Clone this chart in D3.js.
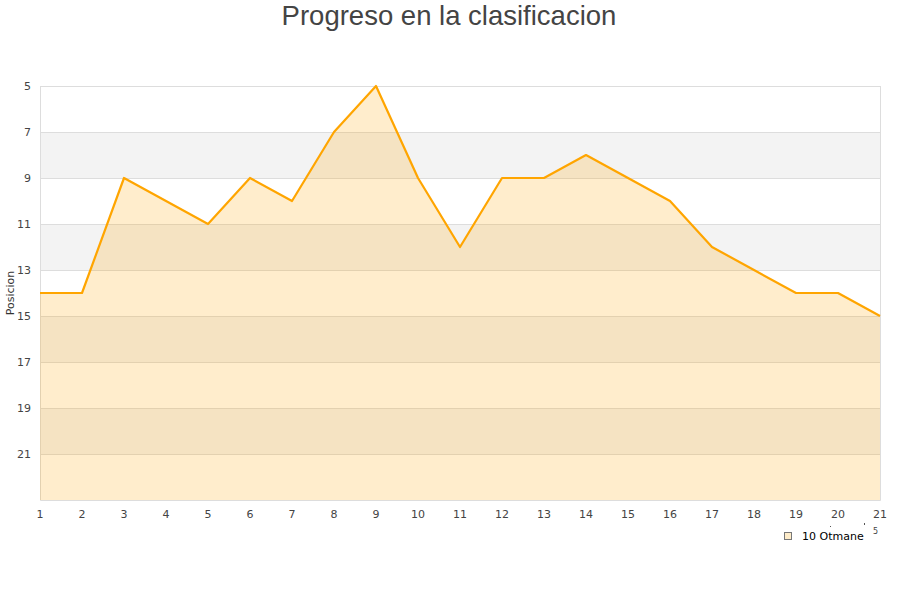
<!DOCTYPE html>
<html><head><meta charset="utf-8">
<script src="https://cdn.jsdelivr.net/npm/d3@7"></script>
<style>body{margin:0;background:#fff}</style>
</head><body>
<svg id="c" width="900" height="600"></svg>
<script>
const jornadas = [1,2,3,4,5,6,7,8,9,10,11,12,13,14,15,16,17,18,19,20,21];
const posiciones = [14,14,9,10,11,9,10,7,5,9,12,9,9,8,9,10,12,13,14,14,15];
const yTicks = [5,7,9,11,13,15,17,19,21];
const serieNombre = "10 Otmane";
const titulo = "Progreso en la clasificacion";
const yTitulo = "Posicion";

const svg = d3.select("#c");
const m = {l:40, r:880, t:86, b:500};
const x = d3.scaleLinear().domain([1,21]).range([m.l, m.r]);
const y = d3.scaleLinear().domain([5,23]).range([m.t, m.b]);

// bands
const bands = [];
for (let v = 5; v < 23; v += 2) bands.push(v);
svg.append("g").selectAll("rect").data(bands).join("rect")
  .attr("x", m.l).attr("width", m.r - m.l)
  .attr("y", d => y(d)).attr("height", d => y(d+2) - y(d))
  .attr("fill", (d,i) => i % 2 ? "#f3f3f3" : "#ffffff");

// grid
svg.append("g").selectAll("line").data(yTicks).join("line")
  .attr("x1", m.l).attr("x2", m.r)
  .attr("y1", d => y(d)).attr("y2", d => y(d))
  .attr("stroke", "#dddddd").attr("stroke-width", 1)
  .attr("shape-rendering", "crispEdges");

// frame
svg.append("path")
  .attr("d", `M${m.l+0.5},${m.t}V${m.b+0.5}H${m.r+0.5}V${m.t}`)
  .attr("fill", "none").attr("stroke", "#dddddd");

// area
const area = d3.area().x((d,i) => x(jornadas[i])).y0(y(23)).y1(d => y(d));
svg.append("path").datum(posiciones).attr("d", area)
  .attr("fill", "rgba(255,165,0,0.2)");
const line = d3.line().x((d,i) => x(jornadas[i])).y(d => y(d));
svg.append("path").datum(posiciones).attr("d", line)
  .attr("fill", "none").attr("stroke", "#ffa500").attr("stroke-width", 2.2)
  .attr("stroke-linejoin", "round");

// axes labels
const f = "DejaVu Sans, sans-serif";
svg.append("g").selectAll("text").data(yTicks).join("text")
  .attr("x", 31).attr("y", d => y(d) + 4)
  .attr("text-anchor", "end").attr("font-family", f).attr("font-size", 11)
  .attr("fill", "#444").text(d => d);
svg.append("g").selectAll("text").data(jornadas).join("text")
  .attr("x", d => x(d)).attr("y", 518)
  .attr("text-anchor", "middle").attr("font-family", f).attr("font-size", 11)
  .attr("fill", "#444").text(d => d);

svg.append("text").attr("transform", "translate(14,293) rotate(-90)")
  .attr("text-anchor", "middle").attr("font-family", f).attr("font-size", 11)
  .attr("fill", "#333").text(yTitulo);

// title
svg.append("text").attr("x", 449).attr("y", 25)
  .attr("text-anchor", "middle").attr("font-family", "Liberation Sans, Arial, sans-serif")
  .attr("font-size", 27.5).attr("fill", "#444").text(titulo);

// stray axis-title fragments
svg.append("rect").attr("x", 830).attr("y", 526).attr("width", 1).attr("height", 1).attr("fill", "#555");
svg.append("rect").attr("x", 864).attr("y", 523).attr("width", 1).attr("height", 2).attr("fill", "#555");
svg.append("text").attr("x", 873).attr("y", 534).attr("font-family", f).attr("font-size", 8)
  .attr("fill", "#444").text("5");

// legend
svg.append("rect").attr("x", 784.5).attr("y", 532.5).attr("width", 7).attr("height", 7)
  .attr("fill", "#feecc9").attr("stroke", "#777").attr("stroke-width", 1);
svg.append("text").attr("x", 802).attr("y", 540).attr("font-family", f).attr("font-size", 11)
  .attr("fill", "#000").text(serieNombre);
</script>
</body></html>
